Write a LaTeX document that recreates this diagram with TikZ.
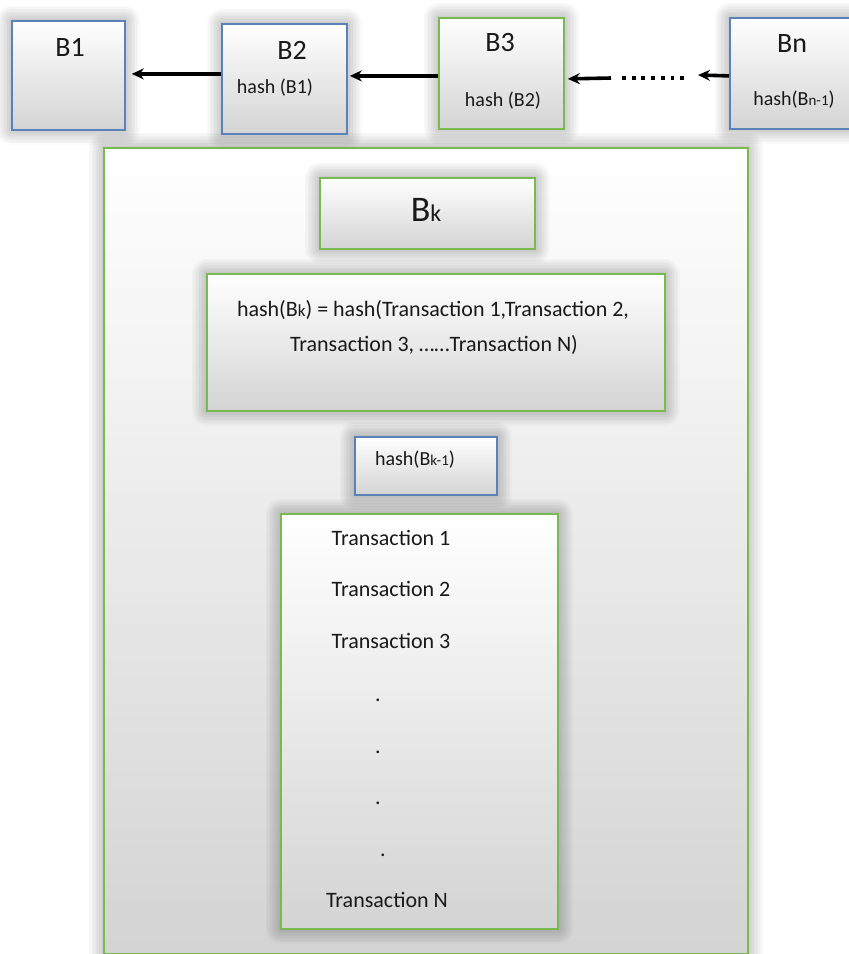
\documentclass[tikz,border=0pt]{standalone}
\usepackage{fontspec}
\setmainfont{Carlito}
\usetikzlibrary{arrows.meta}
\definecolor{bblue}{RGB}{90,130,185}
\definecolor{bgreen}{RGB}{120,185,80}
\tikzset{
 glow/.style={
  preaction={draw=black,draw opacity=0.02,line width=3pt,line join=round},
  preaction={draw=black,draw opacity=0.02,line width=6pt,line join=round},
  preaction={draw=black,draw opacity=0.02,line width=9pt,line join=round},
  preaction={draw=black,draw opacity=0.02,line width=12pt,line join=round},
  preaction={draw=black,draw opacity=0.02,line width=15pt,line join=round},
  preaction={draw=black,draw opacity=0.02,line width=18pt,line join=round},
  preaction={draw=black,draw opacity=0.02,line width=21pt,line join=round},
  preaction={draw=black,draw opacity=0.02,line width=24pt,line join=round},
  preaction={draw=black,draw opacity=0.02,line width=27pt,line join=round},
  preaction={draw=black,draw opacity=0.02,line width=30pt,line join=round}},
 box/.style={glow, anchor=north west, inner sep=0pt, line width=1.8pt,
  top color=white, middle color=black!3, bottom color=black!17},
 bbox/.style={box, draw=bblue},
 gbox/.style={box, draw=bgreen},
 lbl/.style={inner sep=0pt, text=black!90},
 big/.style={lbl, font=\fontsize{28}{30}\selectfont},
 mid/.style={lbl, font=\fontsize{22}{24}\selectfont},
 sml/.style={lbl, font=\fontsize{20}{22}\selectfont},
 arr/.style={line width=3.6pt, -{Stealth[length=12pt,width=11pt]}},
 dotline/.style={line width=3.8pt, dash pattern=on 3.8pt off 5.9pt},
}
\newcommand\subsz{\fontsize{15}{16}\selectfont}
\begin{document}
\begin{tikzpicture}[x=1pt,y=-1pt]
\useasboundingbox (0,0) rectangle (849,954);
\fill[white] (0,0) rectangle (849,954);
% outer block
\node[gbox, minimum width=644pt, minimum height=806pt] (blk) at (103,147) {};
% top chain
\node[bbox, minimum width=113pt, minimum height=109pt] (b1) at (11,20) {};
\node[bbox, minimum width=125pt, minimum height=110pt] (b2) at (221,23) {};
\node[gbox, minimum width=125pt, minimum height=111pt] (b3) at (438,17) {};
\node[bbox, minimum width=141pt, minimum height=111pt] (bn) at (729,17) {};
% inner boxes
\node[gbox, minimum width=215pt, minimum height=71pt] (bk) at (319,177) {};
\node[gbox, minimum width=458pt, minimum height=137pt] (hk) at (206,273) {};
\node[bbox, minimum width=142pt, minimum height=58pt] (hp) at (354,436) {};
\node[gbox, minimum width=277pt, minimum height=415pt] (tx) at (280,513) {};
% labels
\node[big] (t1) at (70,47) {B1};
\node[big] (t2) at (292,50) {B2};
\node[sml] (h1) at (275,88) {hash (B1)};
\node[big] (t3) at (500,43) {B3};
\node[sml] (h2) at (503,101) {hash (B2)};
\node[big] (tn) at (792,44) {Bn};
\node[sml] (hn) at (794,100) {hash(B{\subsz n-1})};
\node[lbl] (tk) at (426,210) {\fontsize{36}{38}\selectfont B\fontsize{24}{26}\selectfont k};
\node[mid] (hl1) at (433,310) {hash(B{\fontsize{17}{18}\selectfont k}) = hash(Transaction 1,Transaction 2,};
\node[mid] (hl2) at (434,345) {Transaction 3, ……Transaction N)};
\node[sml] (hpk) at (415,460) {hash(B{\subsz k-1})};
\node[mid] (x1) at (391,538) {Transaction 1};
\node[mid] (x2) at (391,589) {Transaction 2};
\node[mid] (x3) at (391,641) {Transaction 3};
\node[mid] (p1) at (378,700) {.};
\node[mid] (p2) at (378,752) {.};
\node[mid] (p3) at (378,803) {.};
\node[mid] (p4) at (383,855) {.};
\node[mid] (xn) at (387,900) {Transaction N};
% arrows
\draw[arr] ([yshift=5pt]b2.west) -- ([xshift=6pt,yshift=1.5pt]b1.east);
\draw[arr] ([yshift=-2.5pt]b3.west) -- ([xshift=2pt,yshift=3pt]b2.east);
\coordinate (dl) at (611,78);
\coordinate (d1) at (622,78);
\coordinate (d2) at (688,78);
\coordinate (dr) at (698,75);
\draw[arr] (dl) -- ([xshift=3pt,yshift=-5.5pt]b3.east);
\draw[dotline] (d1) -- (d2);
\draw[arr] ([yshift=-2.5pt]bn.west) -- (dr);
\end{tikzpicture}
\end{document}
